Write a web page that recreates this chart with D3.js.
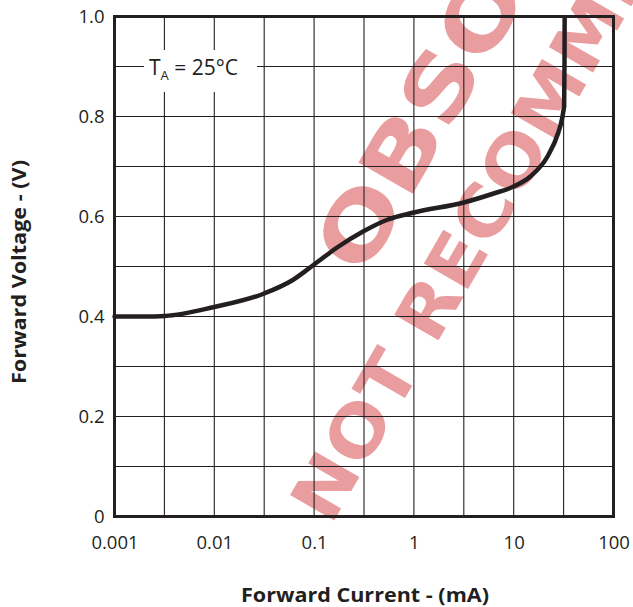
<!DOCTYPE html>
<html><head><meta charset="utf-8">
<script src="https://cdn.jsdelivr.net/npm/d3@7"></script>
<style>
html,body{margin:0;padding:0;background:#fff;}
svg{display:block;}
</style></head>
<body>
<script>
// ---- data ----
const currentMA = [0.001, 0.002, 0.0032, 0.01, 0.0316, 0.06, 0.1, 0.17, 0.316, 0.55, 1, 3.16, 6.3, 10, 14.7, 21.8, 28, 30.5, 32.0, 32.3, 32.4];
const voltageV  = [0.4,   0.4,   0.401,  0.419, 0.446, 0.472, 0.504, 0.538, 0.571, 0.594, 0.608, 0.628, 0.646, 0.66, 0.68, 0.72, 0.768, 0.795, 0.82, 0.91, 1.0];
const xTickValues = [0.001, 0.01, 0.1, 1, 10, 100];
const xTickLabels = ["0.001", "0.01", "0.1", "1", "10", "100"];
const yTickValues = [0, 0.2, 0.4, 0.6, 0.8, 1.0];
const yTickLabels = ["0", "0.2", "0.4", "0.6", "0.8", "1.0"];
const xGridValues = [-6,-5,-4,-3,-2,-1,0,1,2,3,4].map(k => Math.pow(10, k/2));
const yGridValues = [0,0.1,0.2,0.3,0.4,0.5,0.6,0.7,0.8,0.9,1.0];
const annotation = "25°C";
const xTitle = "Forward Current - (mA)";
const yTitle = "Forward Voltage - (V)";
const watermark1 = "OBSOLETE";
const watermark2 = "NOT RECOMMENDED";

const W = 633, H = 607;
const X0 = 114.5, X1 = 613.5, Y0 = 16.5, Y1 = 516.5;
const ink = "#231f20";
const font = "'Open Sans', 'DejaVu Sans', sans-serif";

const svg = d3.select("body").append("svg").attr("width", W).attr("height", H);

const x = d3.scaleLog().domain([0.001, 100]).range([X0, X1]);
const y = d3.scaleLinear().domain([0, 1]).range([Y1, Y0]);

// watermark
const pink = "#e99d9e";
const wm = svg.append("g").attr("fill", pink).attr("font-family", "'DejaVu Sans', sans-serif").attr("font-weight", "bold");
wm.append("text")
  .attr("transform", "translate(337,263) rotate(-60)")
  .attr("dy", "0.36em")
  .attr("font-size", 86)
  .attr("textLength", 610)
  .attr("lengthAdjust", "spacingAndGlyphs")
  .text(watermark1);
wm.append("text")
  .attr("transform", "translate(309,514) rotate(-60)")
  .attr("dy", "0.36em")
  .attr("font-size", 70)
  .attr("textLength", 890)
  .attr("lengthAdjust", "spacingAndGlyphs")
  .text(watermark2);

// grid
const grid = svg.append("g").attr("stroke", ink).attr("stroke-width", 1.1);
grid.selectAll("line.v").data(xGridValues).join("line")
  .attr("x1", d => x(d)).attr("x2", d => x(d)).attr("y1", Y0).attr("y2", Y1);
grid.selectAll("line.h").data(yGridValues).join("line")
  .attr("x1", X0).attr("x2", X1).attr("y1", d => y(d)).attr("y2", d => y(d));

// annotation box
svg.append("rect").attr("x", 144).attr("y", 50).attr("width", 113).attr("height", 42).attr("fill", "#fff");
const ann = svg.append("text").attr("x", 149).attr("y", 75).attr("font-family", font).attr("font-size", 21).attr("fill", ink);
ann.append("tspan").text("T");
ann.append("tspan").attr("font-size", 13).attr("dy", 5).text("A");
ann.append("tspan").attr("dy", -5).text(" = " + annotation);

// border
svg.append("rect").attr("x", X0).attr("y", Y0).attr("width", X1 - X0).attr("height", Y1 - Y0)
  .attr("fill", "none").attr("stroke", ink).attr("stroke-width", 3);

// axes (labels only)
const xAxis = d3.axisBottom(x).tickValues(xTickValues).tickFormat((d, i) => xTickLabels[i]).tickSize(0).tickPadding(19);
const gx = svg.append("g").attr("transform", `translate(0,${Y1})`).call(xAxis);
const yAxis = d3.axisLeft(y).tickValues(yTickValues).tickFormat((d, i) => yTickLabels[i]).tickSize(0).tickPadding(10);
const gy = svg.append("g").attr("transform", `translate(${X0},0)`).call(yAxis);
[gx, gy].forEach(g => {
  g.select(".domain").remove();
  g.selectAll("text").attr("font-family", font).attr("font-size", 18.5).attr("fill", ink);
});

// curve
const pts = currentMA.map((c, i) => [c, voltageV[i]]);
const line = d3.line().x(d => x(d[0])).y(d => y(d[1])).curve(d3.curveMonotoneY);
// piecewise: monotone in x for the rising part, straight vertical at the end
const mainPts = pts.slice(0, pts.length - 2);
const tailPts = pts.slice(pts.length - 3);
const lineX = d3.line().x(d => x(d[0])).y(d => y(d[1])).curve(d3.curveMonotoneX);
svg.append("path").datum(mainPts).attr("d", lineX).attr("fill", "none").attr("stroke", ink)
  .attr("stroke-width", 4.5).attr("stroke-linejoin", "round").attr("stroke-linecap", "round");
svg.append("path").datum(tailPts).attr("d", line).attr("fill", "none").attr("stroke", ink)
  .attr("stroke-width", 4.5).attr("stroke-linejoin", "round");

// titles
svg.append("text").attr("x", 365).attr("y", 602).attr("text-anchor", "middle")
  .attr("font-family", font).attr("font-weight", "bold").attr("font-size", 20).attr("fill", ink)
  .attr("textLength", 248).attr("lengthAdjust", "spacingAndGlyphs").text(xTitle);
svg.append("text").attr("transform", "translate(26,272) rotate(-90)").attr("text-anchor", "middle")
  .attr("font-family", font).attr("font-weight", "bold").attr("font-size", 20).attr("fill", ink)
  .attr("textLength", 224).attr("lengthAdjust", "spacingAndGlyphs").text(yTitle);
</script>
</body></html>
